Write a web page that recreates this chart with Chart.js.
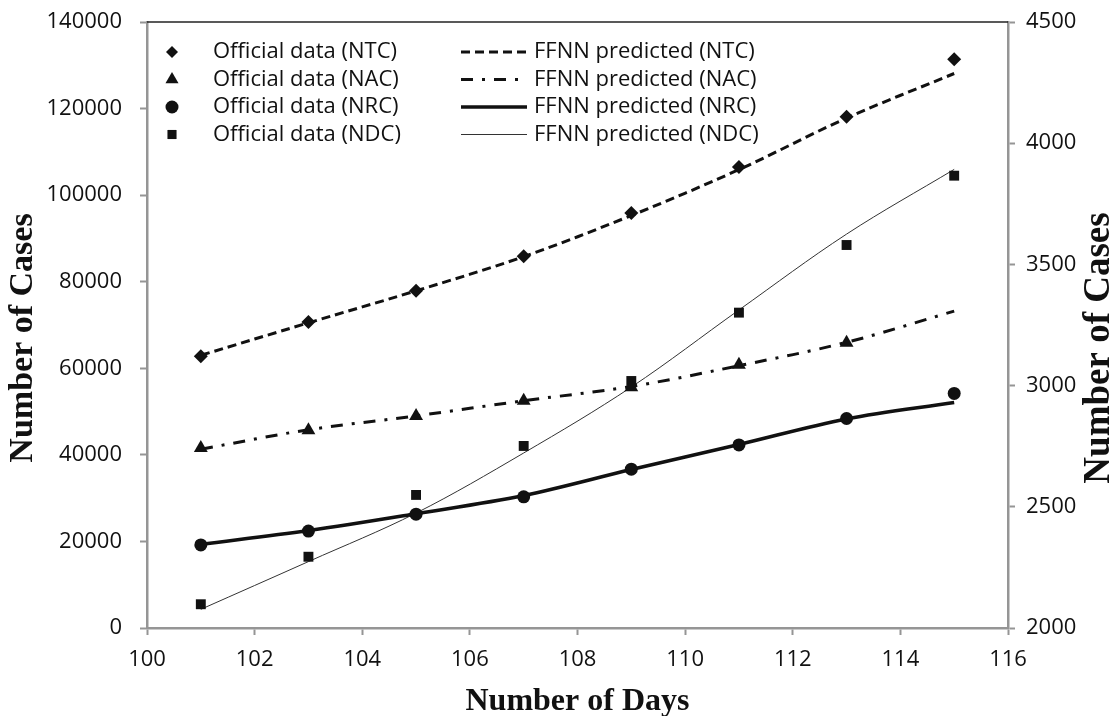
<!DOCTYPE html>
<html>
<head>
<meta charset="utf-8">
<title>FFNN predicted vs official data</title>
<script src="https://cdn.jsdelivr.net/npm/chart.js@4.4.1/dist/chart.umd.min.js"></script>
<style>
  html, body { margin: 0; padding: 0; background: #fff; }
  #wrap { width: 1112px; height: 716px; }
</style>
</head>
<body>
<div id="wrap"><canvas id="grafico" width="1112" height="716"></canvas></div>
<script>
// datos
const days = [101, 103, 105, 107, 109, 111, 113, 115];
const ntcOfficial = [62800, 70700, 77900, 85900, 95900, 106500, 118100, 131400];
const nacOfficial = [41600, 45700, 49000, 52500, 55600, 60800, 65900, null];
const nrcOfficial = [19200, 22400, 26300, 30300, 36700, 42300, 48400, 54200];
const ndcOfficial = [2098, 2294, 2549, 2751, 3019, 3301, 3580, 3866];
const ntcPredicted = [63000, 70500, 77900, 85800, 95300, 105900, 117800, 128100];
const nacPredicted = [41300, 45800, 49000, 52500, 55800, 60600, 66000, 73200];
const nrcPredicted = [19300, 22500, 26400, 30600, 36600, 42400, 48300, 52100];
const ndcPredicted = [2077, 2274, 2474, 2722, 2994, 3312, 3625, 3892];

const xTicks = [100, 102, 104, 106, 108, 110, 112, 114, 116];
const leftTicks = [0, 20000, 40000, 60000, 80000, 100000, 120000, 140000];
const rightTicks = [2000, 2500, 3000, 3500, 4000, 4500];

const ejeGris = '#959595';
const tinta = '#111';

function puntos(vals) {
  return days.map((d, i) => ({ x: d, y: vals[i] }));
}

function oficial(label, vals, estilo, radio, eje) {
  return {
    label: label,
    data: puntos(vals),
    yAxisID: eje || 'y',
    showLine: false,
    pointStyle: estilo,
    pointRadius: radio,
    pointBackgroundColor: tinta,
    pointBorderColor: tinta,
    pointBorderWidth: 0,
    order: 1
  };
}

function prediccion(label, vals, ancho, guion, eje, color) {
  return {
    label: label,
    data: puntos(vals),
    yAxisID: eje || 'y',
    borderColor: color || tinta,
    borderWidth: ancho,
    borderDash: guion,
    pointRadius: 0,
    tension: 0.35,
    fill: false,
    order: 2
  };
}

const datasets = [
  oficial('Official data (NTC)', ntcOfficial, 'rectRot', 7),
  oficial('Official data (NAC)', nacOfficial, 'triangle', 8),
  oficial('Official data (NRC)', nrcOfficial, 'circle', 6.5),
  oficial('Official data (NDC)', ndcOfficial, 'rect', 7, 'y1'),
  prediccion('FFNN predicted (NTC)', ntcPredicted, 3, [9, 5]),
  prediccion('FFNN predicted (NAC)', nacPredicted, 3, [12, 9, 3, 9]),
  prediccion('FFNN predicted (NRC)', nrcPredicted, 3.5, []),
  prediccion('FFNN predicted (NDC)', ndcPredicted, 1, [], 'y1', '#333')
];

// titulos de los ejes verticales (ambos leen de abajo hacia arriba)
const titulosY = [
  { text: 'Number of Cases', x: 23, y: 338, size: 34 },
  { text: 'Number of Cases', x: 1099, y: 348, size: 37 }
];

// dibuja un simbolo de la leyenda
function simbolo(ctx, estilo, x, y, r) {
  ctx.beginPath();
  if (estilo === 'rectRot') {
    ctx.moveTo(x, y - r); ctx.lineTo(x + r, y); ctx.lineTo(x, y + r); ctx.lineTo(x - r, y);
  } else if (estilo === 'triangle') {
    ctx.moveTo(x, y - r); ctx.lineTo(x + r * 0.87, y + r * 0.5); ctx.lineTo(x - r * 0.87, y + r * 0.5);
  } else if (estilo === 'circle') {
    ctx.arc(x, y, r, 0, Math.PI * 2);
  } else {
    ctx.rect(x - r * 0.7, y - r * 0.7, r * 1.4, r * 1.4);
  }
  ctx.closePath();
  ctx.fill();
}

const leyenda = {
  id: 'leyenda',
  afterDraw(chart) {
    const { ctx, chartArea } = chart;
    const sets = chart.data.datasets;
    ctx.save();
    // borde superior del area
    ctx.strokeStyle = '#222';
    ctx.lineWidth = 1.5;
    ctx.beginPath();
    ctx.moveTo(chartArea.left, chartArea.top);
    ctx.lineTo(chartArea.right, chartArea.top);
    ctx.stroke();

    ctx.font = '22px "Open Sans"';
    ctx.textBaseline = 'middle';
    ctx.fillStyle = tinta;
    for (let i = 0; i < 4; i++) {
      const y = chartArea.top + 30 + i * 27.5;
      const of = sets[i];
      const pr = sets[i + 4];
      const r = of.pointStyle === 'rectRot' ? 6 : (of.pointStyle === 'triangle' ? 7.5 : 6.5);
      ctx.fillStyle = tinta;
      simbolo(ctx, of.pointStyle, chartArea.left + 25, y, r);
      ctx.fillText(of.label, chartArea.left + 66, y);
      ctx.strokeStyle = pr.borderColor;
      ctx.lineWidth = pr.borderWidth;
      ctx.setLineDash(pr.borderDash);
      ctx.beginPath();
      ctx.moveTo(chartArea.left + 314, y);
      ctx.lineTo(chartArea.left + 380, y);
      ctx.stroke();
      ctx.setLineDash([]);
      ctx.fillText(pr.label, chartArea.left + 387, y);
    }

    ctx.textAlign = 'center';
    titulosY.forEach(t => {
      ctx.save();
      ctx.translate(t.x, t.y);
      ctx.rotate(-Math.PI / 2);
      ctx.font = 'bold ' + t.size + 'px "Liberation Serif"';
      ctx.fillText(t.text, 0, 0);
      ctx.restore();
    });
    ctx.restore();
  }
};

const ticksFont = { family: '"Open Sans"', size: 22 };

// fija el tamaño de cada eje para que el area quede en 147..1008 x 22..628
function ancho(w) {
  return s => { s.width = w; s.paddingTop = 0; s.paddingBottom = 0; };
}

new Chart(document.getElementById('grafico'), {
  type: 'line',
  data: { datasets: datasets },
  options: {
    responsive: false,
    animation: false,
    layout: { padding: { top: 22, left: 0, right: 0, bottom: 0 } },
    plugins: { legend: { display: false }, tooltip: { enabled: false } },
    scales: {
      x: {
        type: 'linear',
        min: 100,
        max: 116,
        afterFit: s => { s.height = 88; s.paddingLeft = 0; s.paddingRight = 0; },
        afterBuildTicks: s => { s.ticks = xTicks.map(v => ({ value: v })); },
        ticks: { font: ticksFont, color: tinta, padding: 12, maxRotation: 0 },
        grid: { drawOnChartArea: false, color: ejeGris, tickLength: 7, tickWidth: 2 },
        border: { color: ejeGris, width: 2.5 },
        title: { display: true, text: 'Number of Days', font: { family: '"Liberation Serif"', size: 32, weight: 'bold', lineHeight: 1 }, color: tinta, padding: { top: 0, bottom: -2 } }
      },
      y: {
        position: 'left',
        min: 0,
        max: 140000,
        afterFit: ancho(147),
        afterBuildTicks: s => { s.ticks = leftTicks.map(v => ({ value: v })); },
        ticks: { font: ticksFont, color: tinta, padding: 18, callback: v => String(v) },
        grid: { drawOnChartArea: false, color: ejeGris, tickLength: 7, tickWidth: 2 },
        border: { color: ejeGris, width: 2.5 }
      },
      y1: {
        position: 'right',
        min: 2000,
        max: 4500,
        afterFit: ancho(104),
        afterBuildTicks: s => { s.ticks = rightTicks.map(v => ({ value: v })); },
        ticks: { font: ticksFont, color: tinta, padding: 11, callback: v => String(v) },
        grid: { drawOnChartArea: false, color: ejeGris, tickLength: 7, tickWidth: 2 },
        border: { color: ejeGris, width: 2.5 }
      }
    }
  },
  plugins: [leyenda]
});
</script>
</body>
</html>
